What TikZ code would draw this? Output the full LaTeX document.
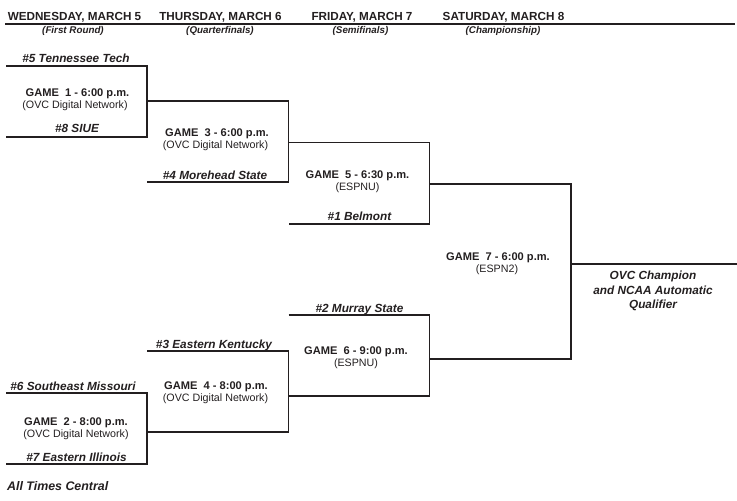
\documentclass[tikz,border=0pt]{standalone}
\usepackage{fontspec}
\setmainfont{Liberation Sans}
\definecolor{ink}{HTML}{231F20}

\begin{document}
\begin{tikzpicture}[x=1pt, y=-1pt, color=ink,
    day/.style={font=\fontsize{11.7}{14}\selectfont\bfseries, anchor=base, inner sep=0pt},
    round/.style={font=\fontsize{9.8}{11}\selectfont\bfseries\itshape, anchor=base, inner sep=0pt},
    team/.style={font=\fontsize{11.8}{14}\selectfont\bfseries\itshape, anchor=base, inner sep=0pt},
    game/.style={font=\fontsize{11.1}{13}\selectfont\bfseries, anchor=base, inner sep=0pt},
    tv/.style={font=\fontsize{10.7}{13}\selectfont, anchor=base, inner sep=0pt},
    bracket/.style={line width=1.2pt, line join=miter}]
    \useasboundingbox (0,0) rectangle (737,501);

    % days
    \node[day] (wed) at (74.5,20) {WEDNESDAY, MARCH 5};
    \node[day] (thu) at (220.5,20) {THURSDAY, MARCH 6};
    \node[day] (fri) at (362,20) {FRIDAY, MARCH 7};
    \node[day] (sat) at (503.5,20) {SATURDAY, MARCH 8};
    \coordinate (hl) at (5,24);
    \coordinate (hr) at (735,24);
    \draw[line width=1.3pt] (hl) -- (hr);
    \node[round] (r1) at (73,33.5) {(First Round)};
    \node[round] (r2) at (220,33.5) {(Quarterfinals)};
    \node[round] (r3) at (360.5,33.5) {(Semifinals)};
    \node[round] (r4) at (503,33.5) {(Championship)};

    % team lines and winners
    \coordinate (t5) at (6,66);
    \coordinate (t8) at (6,137);
    \coordinate (w1) at (147,101);
    \coordinate (t4) at (147,182);
    \coordinate (w3) at (288.5,142.5);
    \coordinate (t1) at (288.5,224);
    \coordinate (w5) at (429.5,184);
    \coordinate (t6) at (6,393);
    \coordinate (t7) at (6,464);
    \coordinate (w2) at (147,432);
    \coordinate (t3) at (147,351);
    \coordinate (w4) at (288.5,396);
    \coordinate (t2) at (288.5,315);
    \coordinate (w6) at (429.5,359);
    \coordinate (w7) at (571,264);
    \coordinate (champ) at (737,264);

    \draw[bracket] (t5) -| (w1) |- (t8);
    \draw[bracket] (w1) -| (w3) |- (t4);
    \draw[bracket] (w3) -| (w5) |- (t1);
    \draw[bracket] (t6) -| (w2) |- (t7);
    \draw[bracket] (t3) -| (w4) |- (w2);
    \draw[bracket] (t2) -| (w6) |- (w4);
    \draw[bracket] (w5) -| (w7) |- (w6);
    \draw[bracket] (w7) -- (champ);

    % teams
    \node[team] (n5) at (76,62.5) {\#5 Tennessee Tech};
    \node[team] (n8) at (77,132.7) {\#8 SIUE};
    \node[team] (n4) at (215,179.3) {\#4 Morehead State};
    \node[team] (n1) at (359.5,220.7) {\#1 Belmont};
    \node[team] (n2) at (359.5,312) {\#2 Murray State};
    \node[team] (n3) at (214,348.3) {\#3 Eastern Kentucky};
    \node[team] (n6) at (73,390.3) {\#6 Southeast Missouri};
    \node[team] (n7) at (76.5,461) {\#7 Eastern Illinois};

    % games
    \node[game] (g1) at (77.5,96) {GAME\ \ 1 - 6:00 p.m.};
    \node[tv] (g1tv) at (75,108) {(OVC Digital Network)};
    \node[game] (g3) at (217,136.7) {GAME\ \ 3 - 6:00 p.m.};
    \node[tv] (g3tv) at (215.5,148.7) {(OVC Digital Network)};
    \node[game] (g5) at (357.5,178.3) {GAME\ \ 5 - 6:30 p.m.};
    \node[tv] (g5tv) at (357.5,190.3) {(ESPNU)};
    \node[game] (g7) at (498,260.7) {GAME\ \ 7 - 6:00 p.m.};
    \node[tv] (g7tv) at (497,272.7) {(ESPN2)};
    \node[game] (g6) at (356,354) {GAME\ \ 6 - 9:00 p.m.};
    \node[tv] (g6tv) at (356,366) {(ESPNU)};
    \node[game] (g4) at (216,389.3) {GAME\ \ 4 - 8:00 p.m.};
    \node[tv] (g4tv) at (215.5,401.3) {(OVC Digital Network)};
    \node[game] (g2) at (76,425.7) {GAME\ \ 2 - 8:00 p.m.};
    \node[tv] (g2tv) at (76,437.7) {(OVC Digital Network)};

    % champion
    \node[team, anchor=north, align=center, font=\fontsize{11.8}{14.5}\selectfont\bfseries\itshape]
      (ch) at (653,271) {OVC Champion\\and NCAA Automatic\\Qualifier};
    \node[team, anchor=base west, font=\fontsize{12.4}{14}\selectfont\bfseries\itshape] (tz) at (7,490) {All Times Central};
\end{tikzpicture}
\end{document}
